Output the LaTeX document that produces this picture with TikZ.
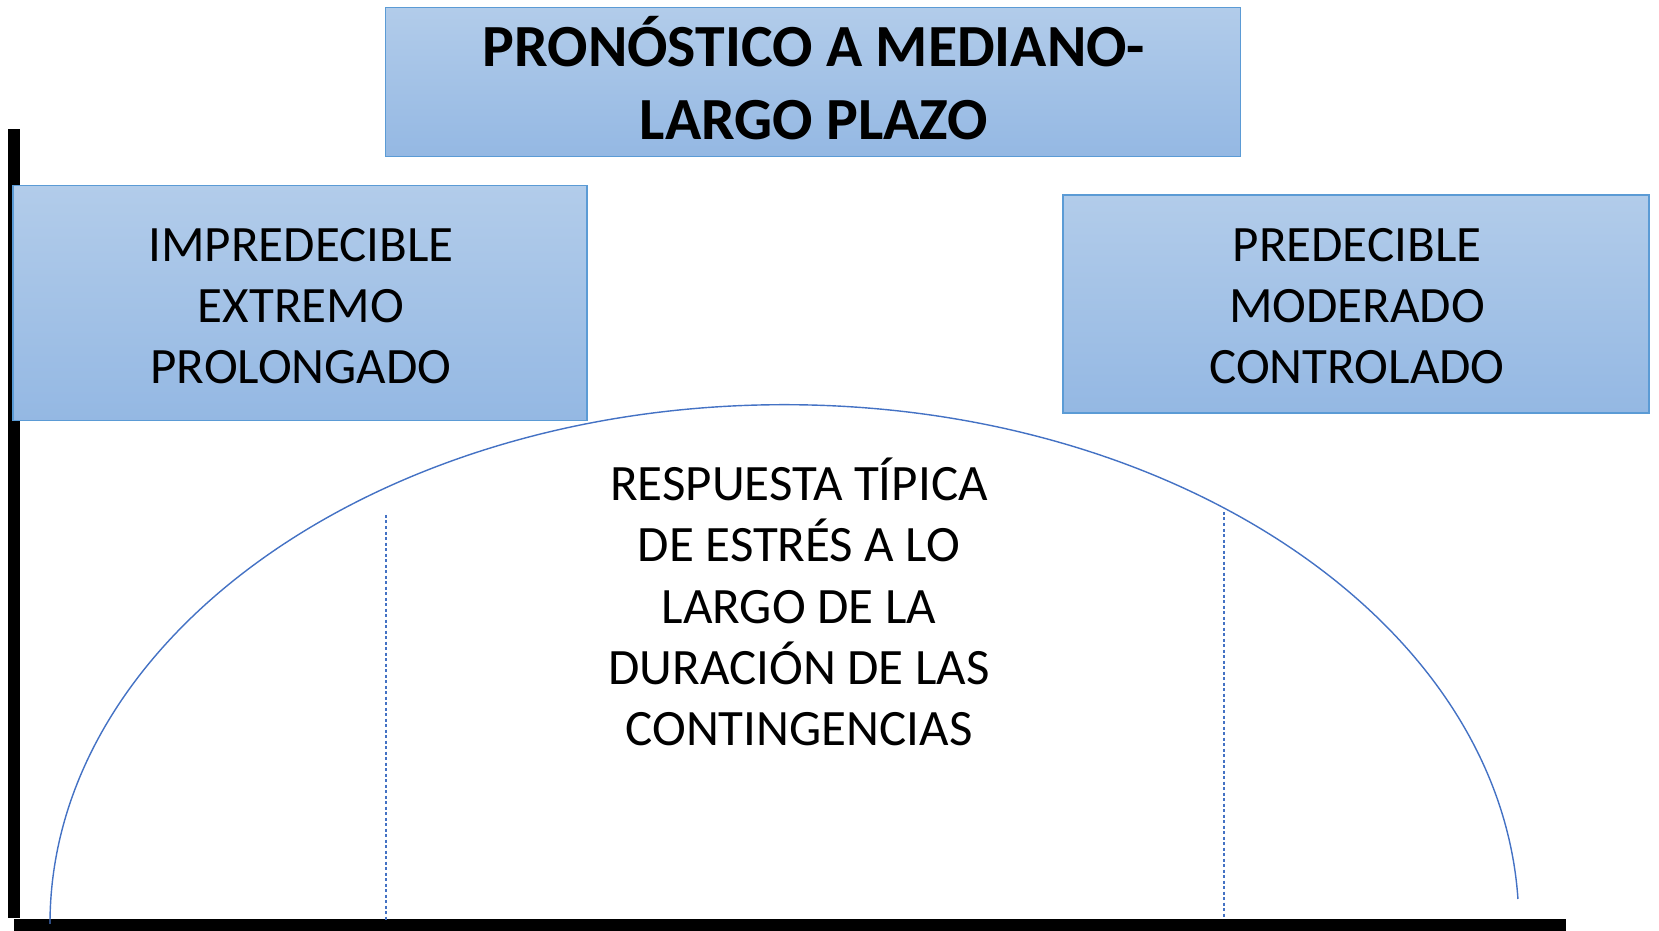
\documentclass[tikz,border=0pt]{standalone}
\usepackage{fontspec}
\setmainfont{Carlito}
\definecolor{boxtop}{RGB}{178,204,234}
\definecolor{boxbot}{RGB}{148,184,227}
\definecolor{boxline}{RGB}{91,155,213}
\definecolor{curveblue}{RGB}{68,114,196}

\begin{document}
\begin{tikzpicture}[x=0.01cm, y=-0.01cm,
    panel/.style={rectangle, draw=boxline, line width=0.4pt, top color=boxtop, bottom color=boxbot, align=center, inner sep=0pt},
    label/.style={align=center, font=\fontsize{14.5}{17.4}\selectfont}]
    \useasboundingbox (0,0) rectangle (1659,931);

    % ejes
    \fill (8,129) rectangle (20,918);
    \fill (14,919) rectangle (1566,931);

    \node[panel, minimum width=8.55cm, minimum height=1.49cm] (title) at (813,82) {};
    \node[align=center, font=\bfseries\fontsize{17}{20.6}\selectfont] (titletext) at (814,78) {PRONÓSTICO A MEDIANO-\\LARGO PLAZO};
    \node[panel, minimum width=5.74cm, minimum height=2.35cm] (impred) at (300,303) {};
    \node[label] (impredtext) at (301,306) {IMPREDECIBLE\\EXTREMO\\PROLONGADO};
    \node[panel, minimum width=5.86cm, minimum height=2.18cm] (pred) at (1356,304) {};
    \node[label] (predtext) at (1357,306) {PREDECIBLE\\MODERADO\\CONTROLADO};

    \draw[curveblue, line width=0.4pt] (50,924) arc[start angle=180, end angle=2.76, x radius=7.34cm, y radius=5.19cm];
    \draw[curveblue, line width=0.3pt, dash pattern=on 0.3mm off 0.25mm] (386,515) -- (386,920);
    \draw[curveblue, line width=0.3pt, dash pattern=on 0.3mm off 0.25mm] (1224,512) -- (1224,917);

    \node[label] (resp) at (799,602) {RESPUESTA TÍPICA\\DE ESTRÉS A LO\\LARGO DE LA\\DURACIÓN DE LAS\\CONTINGENCIAS};
\end{tikzpicture}
\end{document}
